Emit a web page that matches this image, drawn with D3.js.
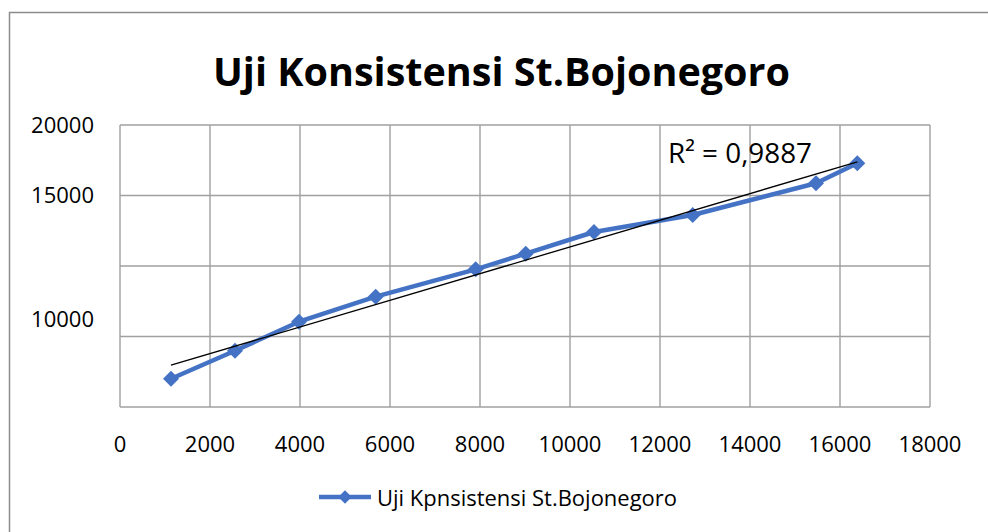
<!DOCTYPE html>
<html>
<head>
<meta charset="utf-8">
<script src="https://cdn.jsdelivr.net/npm/d3@7"></script>
<style>
  html, body { margin: 0; padding: 0; background: #fff; }
  svg { display: block; }
  text { font-family: "Open Sans", "Lato", sans-serif; fill: #000; }
</style>
</head>
<body>
<svg id="chart" width="988" height="532"></svg>
<script>
// ---- data ----
const titleText = "Uji Konsistensi St.Bojonegoro";
const seriesName = "Uji Kpnsistensi St.Bojonegoro";
const xValues = [1133, 2556, 3978, 5682, 7904, 9016, 10533, 12726, 15467, 16385];
const yValues = [2007, 3993, 6050, 7823, 9766, 10872, 12411, 13617, 15865, 17284];
const xTicks = [0, 2000, 4000, 6000, 8000, 10000, 12000, 14000, 16000, 18000];
const yGridValues = [0, 5000, 10000, 15000, 20000];
const yTickLabels = ["20000", "15000", "10000"];
const yTickAnchors = [20000, 15000, 6230]; // where the labels sit in the reference
const r2Label = "R\u00B2 = 0,9887";

// ---- layout ----
const W = 988, H = 532;
const plot = { left: 120, right: 930, top: 125, bottom: 407 };
const svg = d3.select("#chart");

const x = d3.scaleLinear().domain([0, 18000]).range([plot.left, plot.right]);
const y = d3.scaleLinear().domain([0, 20000]).range([plot.bottom, plot.top]);

function fit(sel, target, start) {
  sel.style("font-size", start + "px");
  const w = sel.node().getComputedTextLength();
  sel.style("font-size", (start * target / w).toFixed(2) + "px");
}

// outer border (chart area)
svg.append("path")
  .attr("d", `M9.5,${H} V12.5 H${W}`)
  .attr("fill", "none").attr("stroke", "#8c8c8c").attr("stroke-width", 1.5);

// grid
const grid = svg.append("g").attr("stroke", "#a0a0a0").attr("stroke-width", 1.4);
grid.selectAll("line.v").data(xTicks).join("line")
  .attr("x1", d => x(d)).attr("x2", d => x(d))
  .attr("y1", plot.top).attr("y2", plot.bottom);
grid.selectAll("line.h").data(yGridValues).join("line")
  .attr("x1", plot.left).attr("x2", plot.right)
  .attr("y1", d => y(d)).attr("y2", d => y(d));

// x tick labels
svg.append("g").selectAll("text").data(xTicks).join("text")
  .attr("x", d => x(d)).attr("y", 452)
  .attr("text-anchor", "middle")
  .style("font-size", "22px")
  .text(d => d);

// y tick labels
svg.append("g").selectAll("text").data(yTickLabels).join("text")
  .attr("x", 94).attr("y", (d, i) => y(yTickAnchors[i]))
  .attr("dy", "0.36em")
  .attr("text-anchor", "end")
  .style("font-size", "22px")
  .text(d => d);

// title
const t = svg.append("text")
  .attr("x", 213).attr("y", 86)
  .style("font-weight", "bold")
  .text(titleText);
fit(t, 577, 40);

// trendline (least squares)
const pts = xValues.map((v, i) => [v, yValues[i]]);
const mx = d3.mean(xValues), my = d3.mean(yValues);
const sxy = d3.sum(pts, p => (p[0] - mx) * (p[1] - my));
const sxx = d3.sum(pts, p => (p[0] - mx) ** 2);
const slope = sxy / sxx, icpt = my - slope * mx;
const xmin = d3.min(xValues), xmax = d3.max(xValues);

// series line
svg.append("path")
  .datum(pts)
  .attr("fill", "none")
  .attr("stroke", "#4472C4")
  .attr("stroke-width", 4.5)
  .attr("stroke-linejoin", "round")
  .attr("d", d3.line().x(p => x(p[0])).y(p => y(p[1])));

// markers
const diamond = d3.symbol(d3.symbolSquare, 128);
svg.append("g").selectAll("path").data(pts).join("path")
  .attr("d", diamond)
  .attr("fill", "#4472C4")
  .attr("transform", p => `translate(${x(p[0])},${y(p[1])}) rotate(45)`);

svg.append("line")
  .attr("x1", x(xmin)).attr("y1", y(slope * xmin + icpt))
  .attr("x2", x(xmax)).attr("y2", y(slope * xmax + icpt))
  .attr("stroke", "#000").attr("stroke-width", 1.3);

// R² label
const r = svg.append("text").attr("x", 668).attr("y", 163).text(r2Label);
fit(r, 144, 27);

// legend
const lg = svg.append("g");
lg.append("line").attr("x1", 319).attr("x2", 371).attr("y1", 497).attr("y2", 497)
  .attr("stroke", "#4472C4").attr("stroke-width", 4.5);
lg.append("path").attr("d", d3.symbol(d3.symbolSquare, 90))
  .attr("fill", "#4472C4")
  .attr("transform", "translate(345,497) rotate(45)");
const lt = lg.append("text").attr("x", 377).attr("y", 506).text(seriesName);
fit(lt, 300, 22);
</script>
</body>
</html>
